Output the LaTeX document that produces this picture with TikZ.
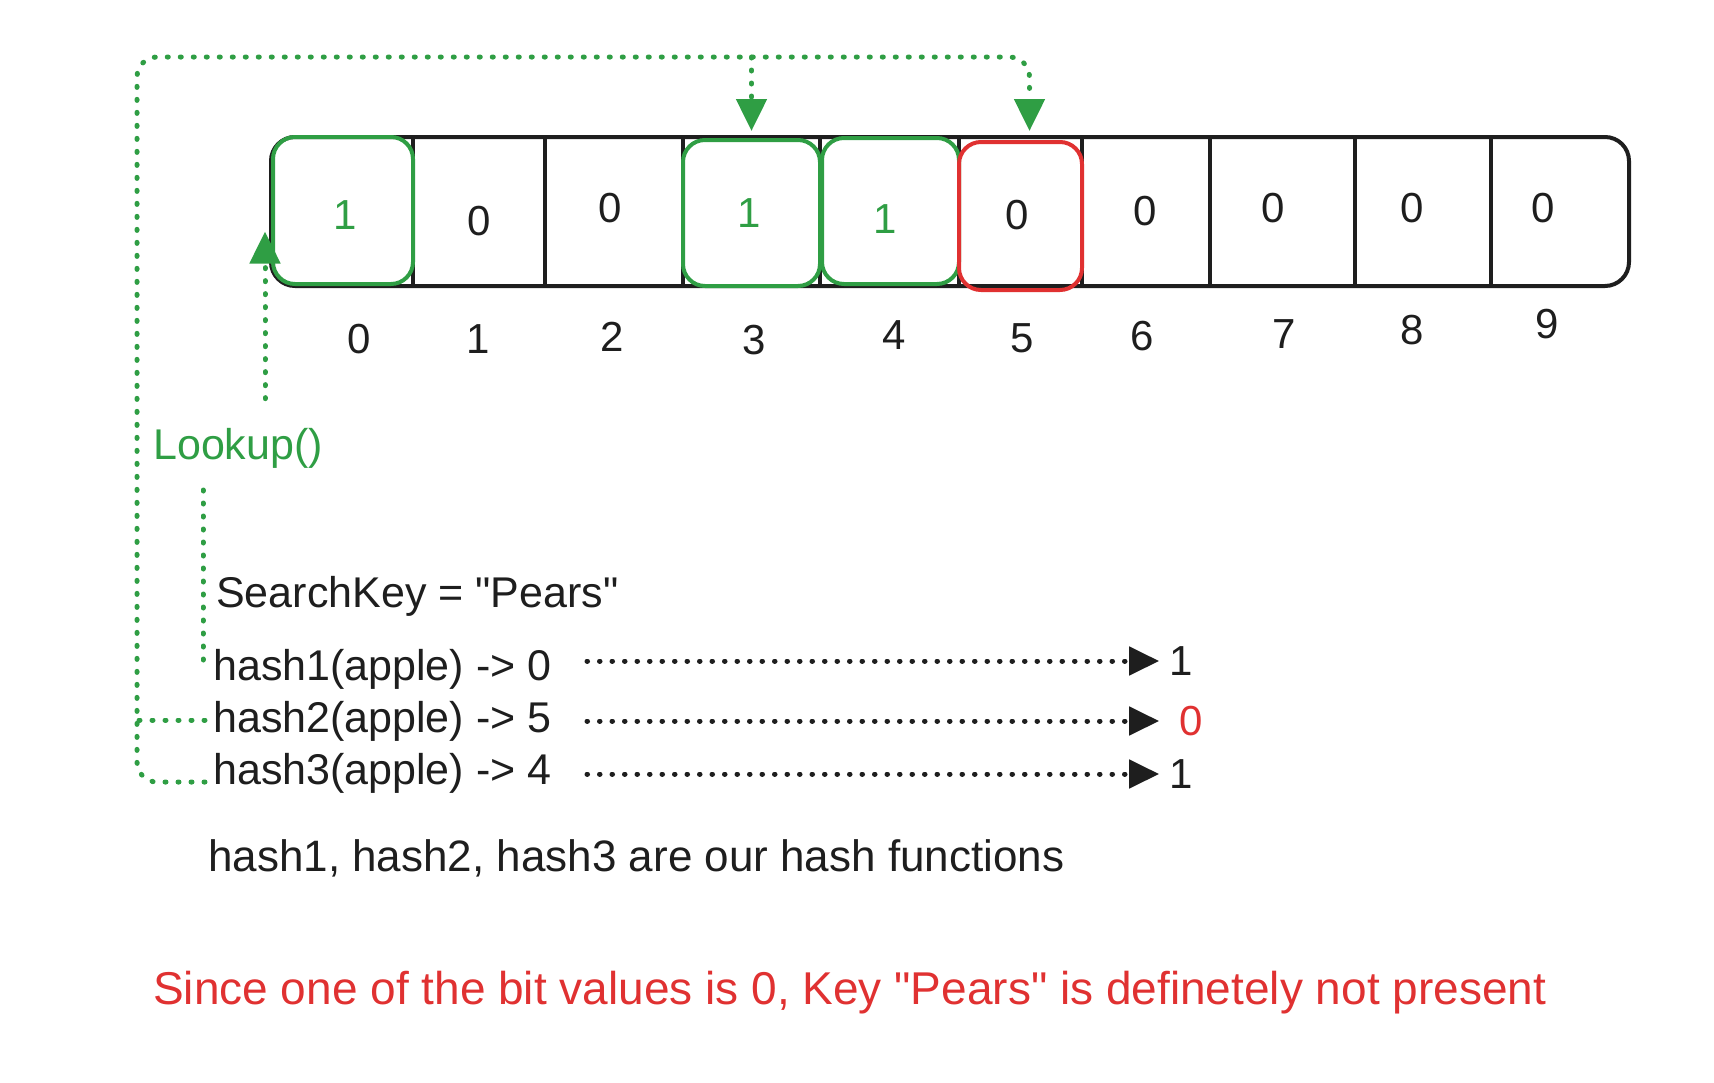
\documentclass[tikz,border=0pt]{standalone}
\usepackage{fontspec}
\setmainfont{Liberation Sans}[Ligatures=TeXOff]
\usetikzlibrary{arrows.meta}
\definecolor{exgreen}{HTML}{2F9E44}
\definecolor{exred}{HTML}{E03131}
\definecolor{exblack}{HTML}{1E1E1E}
\begin{document}
\begin{tikzpicture}[x=1pt,y=-1pt,
  cellbox/.style={draw=none,minimum height=149pt,inner sep=0pt,outer sep=0pt},
  bitval/.style={font=\fontsize{42}{42}\selectfont,text=exblack,inner sep=0pt},
  bitone/.style={bitval,text=exgreen},
  txt/.style={font=\fontsize{43}{50}\selectfont,text=exblack,inner sep=0pt,anchor=base west},
  bigtxt/.style={font=\fontsize{46}{54}\selectfont,text=exred,inner sep=0pt,anchor=base west},
  arr/.style={draw=exblack,line width=4pt},
  hibox/.style={line width=4pt,rounded corners=22pt},
  gline/.style={draw=exgreen,line width=5pt,line cap=round,dash pattern=on 1pt off 12pt},
  bline/.style={draw=exblack,line width=5pt,line cap=round,dash pattern=on 0.5pt off 12pt},
  gtip/.style={-{Triangle[length=32pt,width=30pt,fill=exgreen]}},
  btip/.style={-{Triangle[length=30pt,width=28pt,fill=exblack]}}
]
\useasboundingbox (0,0) rectangle (1714,1082);

% cells
\node[cellbox,minimum width=142pt] (c0) at (342,211.5) {};
\node[cellbox,minimum width=132pt] (c1) at (479,211.5) {};
\node[cellbox,minimum width=138pt] (c2) at (614,211.5) {};
\node[cellbox,minimum width=137pt] (c3) at (751.5,211.5) {};
\node[cellbox,minimum width=139pt] (c4) at (889.5,211.5) {};
\node[cellbox,minimum width=123pt] (c5) at (1020.5,211.5) {};
\node[cellbox,minimum width=128pt] (c6) at (1146,211.5) {};
\node[cellbox,minimum width=145pt] (c7) at (1282.5,211.5) {};
\node[cellbox,minimum width=136pt] (c8) at (1423,211.5) {};
\node[cellbox,minimum width=138pt] (c9) at (1560,211.5) {};

\draw[arr,rounded corners=24pt] (c0.north west) rectangle (c9.south east);
\foreach \c in {c0,c1,c2,c3,c4,c5,c6,c7,c8}
  \draw[arr] (\c.north east) -- (\c.south east);

% highlighted cells
\draw[hibox,draw=exgreen] ([xshift=2pt]c0.north west) rectangle ([yshift=2pt]c0.south east);
\draw[hibox,draw=exgreen] ([yshift=-3pt]c3.north west) rectangle (c3.south east);
\draw[hibox,draw=exgreen] ([xshift=2pt,yshift=-1pt]c4.north west) rectangle ([yshift=2pt]c4.south east);
\draw[hibox,draw=exred] ([yshift=-5pt]c5.north west) rectangle ([yshift=-4pt]c5.south east);

% bit values
\node[bitone] (v0) at (345,215) {1};
\node[bitval] (v1) at (479,221) {0};
\node[bitval] (v2) at (610,208) {0};
\node[bitone] (v3) at (749,213) {1};
\node[bitone] (v4) at (885,219) {1};
\node[bitval] (v5) at (1017,215) {0};
\node[bitval] (v6) at (1145,211) {0};
\node[bitval] (v7) at (1273,208) {0};
\node[bitval] (v8) at (1412,208) {0};
\node[bitval] (v9) at (1543,208) {0};

% indices
\node[bitval] (i0) at (359,339) {0};
\node[bitval] (i1) at (478,339) {1};
\node[bitval] (i2) at (612,337) {2};
\node[bitval] (i3) at (754,340) {3};
\node[bitval] (i4) at (894,335) {4};
\node[bitval] (i5) at (1022,338) {5};
\node[bitval] (i6) at (1142,336) {6};
\node[bitval] (i7) at (1284,334) {7};
\node[bitval] (i8) at (1412,330) {8};
\node[bitval] (i9) at (1547,324) {9};

% texts
\node[txt,text=exgreen] (lookup) at (153,459) {Lookup()};
\node[txt] (key) at (216,607) {SearchKey = "Pears"};
\node[txt] (h1) at (213,680) {hash1(apple) -> 0};
\node[txt] (h2) at (213,732) {hash2(apple) -> 5};
\node[txt] (h3) at (213,784) {hash3(apple) -> 4};
\node[txt,font=\fontsize{44}{50}\selectfont] (note) at (208,871) {hash1, hash2, hash3 are our hash functions};
\node[bigtxt] (concl) at (153,1004) {Since one of the bit values is 0, Key "Pears" is definetely not present};

% results
\node[bitval] (r1) at (1181,661) {1};
\node[bitval,text=exred] (r2) at (1191,721) {0};
\node[bitval] (r3) at (1181,774) {1};

% row arrows
\coordinate (ax) at (587,0);
\draw[bline,btip] (ax |- r1.west) -- ([xshift=-10pt]r1.west);
\draw[bline,btip] (ax |- r2.west) -- ([xshift=-20pt]r2.west);
\draw[bline,btip] (ax |- r3.west) -- ([xshift=-10pt]r3.west);

% green connectors
\coordinate (tl) at (137,57);
\coordinate (h3s) at ([xshift=-8pt,yshift=2pt]h3.base west);
\coordinate (h2s) at ([xshift=-8pt,yshift=12pt]h2.base west);
\draw[gline,gtip,rounded corners=20pt] (h3s) -| (tl) -| ([xshift=9pt,yshift=6pt]c5.north);
\draw[gline,gtip] (c3.north |- tl) -- ([yshift=6pt]c3.north);
\draw[gline] (h2s) -- (tl |- h2s);

\coordinate (lkB) at ([xshift=-6pt,yshift=-20pt]c0.west);
\draw[gline,gtip] ([yshift=29pt]lookup.north -| lkB) -- (lkB);

\coordinate (vtop) at (203,490);
\draw[gline] (vtop) -- (vtop |- h1.west);
\end{tikzpicture}
\end{document}
